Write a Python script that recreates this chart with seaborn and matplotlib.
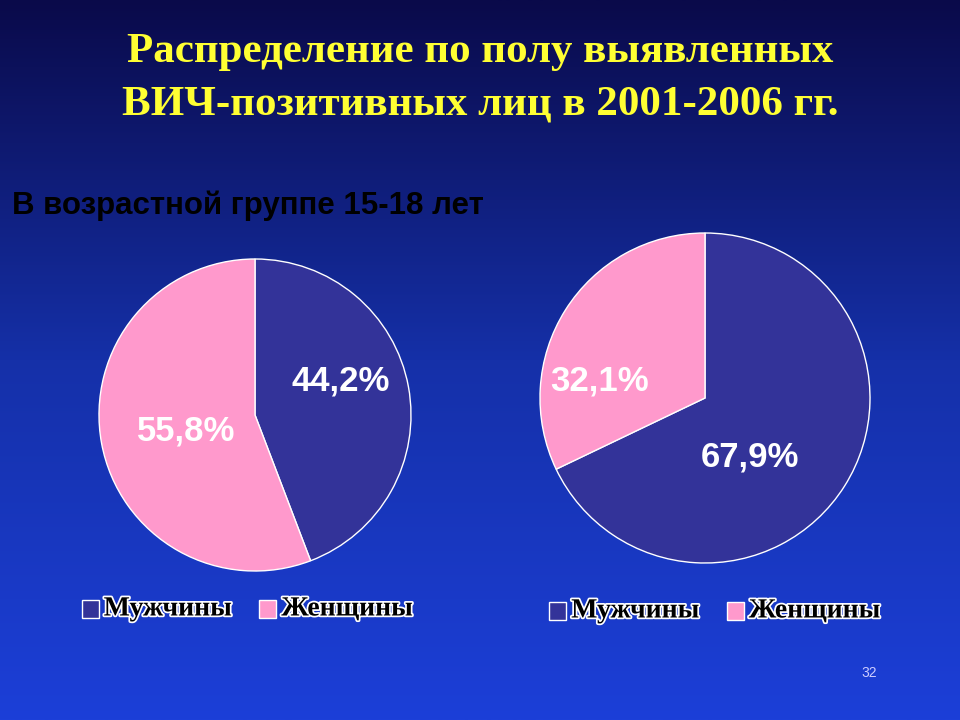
import matplotlib
matplotlib.use("Agg")
import matplotlib.pyplot as plt
import matplotlib.patheffects as pe
from matplotlib.patches import Rectangle
from matplotlib.colors import LinearSegmentedColormap
import numpy as np
import seaborn as sns

sns.set_theme(style="white")
plt.rcParams['font.family'] = ['Liberation Sans', 'DejaVu Sans']

categories = ["Мужчины", "Женщины"]
left_values = [44.2, 55.8]
right_values = [67.9, 32.1]
left_labels = ["44,2%", "55,8%"]
right_labels = ["67,9%", "32,1%"]
colors = ["#333399", "#ff99cc"]

fig = plt.figure(figsize=(9.6, 7.2), dpi=100)
bg = fig.add_axes([0, 0, 1, 1])
grad = np.linspace(0, 1, 256).reshape(-1, 1)
cmap = LinearSegmentedColormap.from_list("bg", ["#0a0a4a", "#1530a8", "#1c3fd8"])
bg.imshow(grad, aspect="auto", cmap=cmap, extent=[0, 1, 0, 1], origin="upper")
bg.axis("off")

fig.text(0.5, 1 - 52/720, "Распределение по полу выявленных", ha="center", va="center",
         fontsize=31, fontweight="bold", color="#ffff33", family="Liberation Serif")
fig.text(0.5, 1 - 105/720, "ВИЧ-позитивных лиц в 2001-2006 гг.", ha="center", va="center",
         fontsize=31, fontweight="bold", color="#ffff33", family="Liberation Serif")
fig.text(0.012, 1 - 206/720, "В возрастной группе 15-18 лет", ha="left", va="center",
         fontsize=22.5, fontweight="bold", color="black")

def draw_pie(rect, values, labels, label_pos):
    ax = fig.add_axes(rect)
    ax.pie(values, colors=colors, startangle=90, counterclock=False, radius=1,
           wedgeprops=dict(edgecolor="white", linewidth=1))
    ax.set_xlim(-1, 1)
    ax.set_ylim(-1, 1)
    ax.set_aspect("equal")
    ax.axis("off")
    for (x, y), t in zip(label_pos, labels):
        ax.text(x, y, t, ha="center", va="center", fontsize=25, fontweight="bold", color="white")
    return ax

draw_pie([(255-156)/960, 1-(415+156)/720, 312/960, 312/720], left_values, left_labels,
         [(0.55, 0.22), (-0.44, -0.1)])
draw_pie([(705-165)/960, 1-(398+165)/720, 330/960, 330/720], right_values, right_labels,
         [(0.27, -0.36), (-0.64, 0.1)])

def legend(x0, y):
    sh = [pe.withStroke(linewidth=2.5, foreground="white")]
    items = [(x0, categories[0], colors[0]), (x0 + 0.185, categories[1], colors[1])]
    for x, name, c in items:
        bg.add_patch(Rectangle((x, y - 0.012), 0.018, 0.024, facecolor=c, edgecolor="white", lw=1,
                               transform=fig.transFigure))
        fig.text(x + 0.023, y, name, ha="left", va="center", fontsize=20, fontweight="bold",
                 color="black", family="Liberation Serif", path_effects=sh)

legend(0.085, 1 - 609/720)
legend(0.572, 1 - 611/720)
fig.text(0.905, 1 - 673/720, "32", fontsize=10, color="#ccccff", ha="center", va="center")

fig.savefig("out.png", dpi=100)
